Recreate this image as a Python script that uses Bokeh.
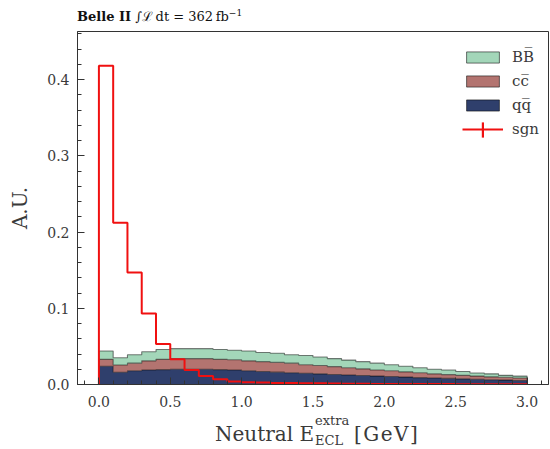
import numpy as np
from bokeh.plotting import figure
from bokeh.layouts import column
from bokeh.models import (Range1d, SingleIntervalTicker, PrintfTickFormatter, Div,
                          Legend, LegendItem, ColumnDataSource)
from bokeh.embed import file_html
from bokeh.resources import INLINE

# ---------------- data ----------------
bin_low, bin_high, n_bins = 0.0, 3.0, 30

qq = [0.024, 0.016, 0.018, 0.019, 0.0195, 0.020, 0.020, 0.020, 0.0195, 0.019,
      0.018, 0.017, 0.0162, 0.0155, 0.0148, 0.014, 0.0132, 0.0125, 0.0118, 0.011,
      0.0104, 0.0097, 0.009, 0.0085, 0.008, 0.0074, 0.0068, 0.0063, 0.0058, 0.0053]
cc = [0.009, 0.0095, 0.010, 0.012, 0.0135, 0.014, 0.014, 0.014, 0.0135, 0.0135,
      0.013, 0.013, 0.0128, 0.0125, 0.0112, 0.011, 0.0103, 0.0095, 0.0087, 0.008,
      0.0076, 0.0068, 0.0065, 0.0055, 0.005, 0.0046, 0.0042, 0.0037, 0.0037, 0.0032]
bb = [0.011, 0.0095, 0.011, 0.012, 0.013, 0.013, 0.013, 0.013, 0.013, 0.0125,
      0.013, 0.012, 0.012, 0.011, 0.012, 0.011, 0.0105, 0.010, 0.0095, 0.009,
      0.008, 0.0075, 0.0065, 0.006, 0.006, 0.005, 0.004, 0.004, 0.0025, 0.0025]
sgn = [0.418, 0.212, 0.147, 0.093, 0.053, 0.033, 0.019, 0.011, 0.007, 0.004,
       0.003, 0.0025, 0.002, 0.002, 0.0015, 0.0015, 0.0012, 0.001, 0.0009, 0.0008,
       0.0007, 0.0006, 0.0006, 0.0005, 0.0005, 0.0004, 0.0004, 0.0003, 0.0003, 0.0003]

labels = ["q" + "q\u0305", "c" + "c\u0305", "B" + "B\u0305", "sgn"]
colors = ["#2f3f6c", "#b37470", "#a3d6b9"]
sig_color = "#f01010"

# ---------------- figure ----------------
X0, X1 = -0.15, 3.15
Y0, Y1 = 0.0, 0.463
FONT = "DejaVu Serif"
TXT = "#3a3a3a"

p = figure(width=550, height=383, output_backend="svg", toolbar_location=None,
           x_range=Range1d(X0, X1), y_range=Range1d(Y0, Y1),
           min_border_left=77, min_border_right=2, min_border_top=2, min_border_bottom=28,
           margin=0)
p.grid.visible = False
p.outline_line_color = "#333333"
p.outline_line_width = 1
p.background_fill_color = "white"
p.border_fill_color = "white"

edges = np.linspace(bin_low, bin_high, n_bins + 1)

base = np.zeros(n_bins)
tops = []
for vals, col in zip([qq, cc, bb], colors):
    top = base + np.array(vals)
    src = ColumnDataSource(dict(x=edges,
                                y1=np.append(base, base[-1]),
                                y2=np.append(top, top[-1])))
    p.varea_step(x="x", y1="y1", y2="y2", step_mode="after", fill_color=col, source=src)
    tops.append((base.copy(), top))
    base = top

for b, t in tops:
    xs = np.concatenate([[edges[0]], edges])
    ys = np.concatenate([[b[0]], t, [b[-1]]])
    p.step(x=xs, y=ys, mode="after", line_color="black", line_alpha=0.5, line_width=1.1)

sg = np.array(sgn)
xs = np.concatenate([[edges[0]], edges])
ys = np.concatenate([[0.0], sg, [0.0]])
sig_r = p.step(x=xs, y=ys, mode="after", line_color=sig_color, line_width=2)

# legend proxies (no visible marks)
nan = [np.nan]
proxies = []
for col in colors:
    proxies.append(p.quad(left=nan, right=nan, top=nan, bottom=nan, fill_color=col,
                          line_color="black", line_alpha=0.55, line_width=1))
bar_r = p.vbar(x=nan, top=nan, bottom=nan, width=0.1, fill_color=sig_color,
               line_color=None)

items = [LegendItem(label=labels[2], renderers=[proxies[2]]),
         LegendItem(label=labels[1], renderers=[proxies[1]]),
         LegendItem(label=labels[0], renderers=[proxies[0]]),
         LegendItem(label=labels[3], renderers=[sig_r])]
leg = Legend(items=items, location=(381, 241), glyph_width=41, glyph_height=14,
             label_height=20, label_standoff=9, spacing=4, padding=4, margin=0,
             label_text_font=FONT, label_text_font_size="15px", label_text_color=TXT,
             border_line_alpha=0, background_fill_alpha=0)
p.add_layout(leg)

# vertical arm of the signal legend marker (error-bar style cross)
leg2 = Legend(items=[LegendItem(label=" ", renderers=[bar_r])], location=(404, 245),
              glyph_width=3, glyph_height=19, label_height=19, label_standoff=0,
              spacing=0, padding=0, margin=0, label_text_font_size="1px",
              border_line_alpha=0, background_fill_alpha=0)
p.add_layout(leg2)

# axes
p.xaxis.ticker = SingleIntervalTicker(interval=0.5, num_minor_ticks=5)
p.yaxis.ticker = SingleIntervalTicker(interval=0.1, num_minor_ticks=5)
p.xaxis.formatter = PrintfTickFormatter(format="%.1f")
p.yaxis.formatter = PrintfTickFormatter(format="%.1f")
for ax in (p.xaxis[0], p.yaxis[0]):
    ax.major_tick_in = 7
    ax.major_tick_out = 0
    ax.minor_tick_in = 4
    ax.minor_tick_out = 0
    ax.major_tick_line_color = "#333333"
    ax.minor_tick_line_color = "#333333"
    ax.axis_line_color = "#333333"
    ax.major_label_text_font = FONT
    ax.major_label_text_font_size = "14px"
    ax.major_label_text_color = TXT
p.xaxis.major_label_standoff = 11
p.yaxis.major_label_standoff = 8
p.yaxis.axis_label = "A.U."
p.yaxis.axis_label_text_font = FONT
p.yaxis.axis_label_text_font_size = "20px"
p.yaxis.axis_label_text_font_style = "normal"
p.yaxis.axis_label_text_color = TXT
p.yaxis.axis_label_standoff = 12

# ---------------- title and x-axis label (HTML text) ----------------
def span(text, left, top, size, extra=""):
    return (f'<span style="position:absolute;left:{left}px;top:{top}px;font-size:{size}px;'
            f'line-height:{size}px;white-space:nowrap;{extra}">{text}</span>')

title_html = ('<div style="position:relative;width:550px;height:29px;'
              'font-family:\'DejaVu Serif\';color:#111111;">'
              + span('<b>Belle II</b>&nbsp;\u222b\u2112&thinsp;dt = 362&thinsp;fb'
                     '<sup style="font-size:9px;line-height:0;">\u22121</sup>', 77, 10, 13)
              + '</div>')
title_div = Div(text=title_html, width=550, height=29, margin=0)

xlab_html = ('<div style="position:relative;width:550px;height:37px;'
             f'font-family:\'DejaVu Serif\';color:{TXT};">'
             + span("Neutral E", 215, 12, 20)
             + span("extra", 315, 2, 13)
             + span("ECL", 315, 22, 13)
             + span("[GeV]", 354, 12, 20, "letter-spacing:1.5px;")
             + '</div>')
xlab_div = Div(text=xlab_html, width=550, height=37, margin=0)

layout = column(title_div, p, xlab_div, spacing=0, margin=0)

open("out.html", "w").write(file_html(layout, INLINE))
